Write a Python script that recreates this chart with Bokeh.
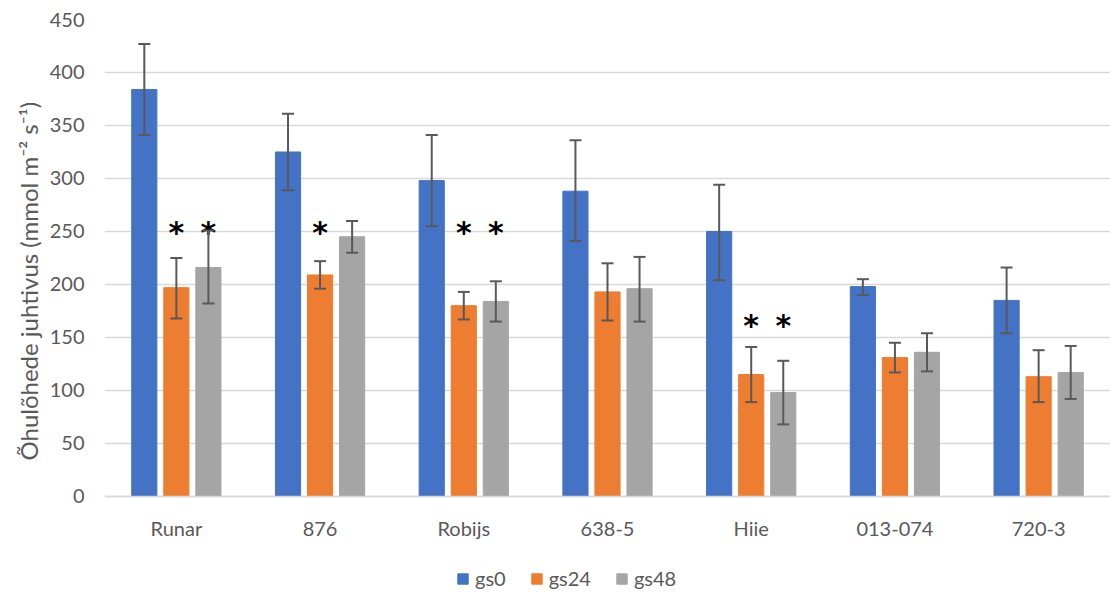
from bokeh.plotting import figure
from bokeh.models import ColumnDataSource, Whisker, TeeHead, Legend, LegendItem, FixedTicker, Title
from bokeh.transform import dodge
from bokeh.core.properties import value
from bokeh.embed import file_html
from bokeh.resources import INLINE

categories = ["Runar", "876", "Robijs", "638-5", "Hiie", "013-074", "720-3"]
series = ["gs0", "gs24", "gs48"]

gs0 = [384, 325, 298, 288, 250, 198, 185]
gs0_lo = [341, 289, 255, 241, 204, 190, 154]
gs0_hi = [427, 361, 341, 336, 294, 205, 216]

gs24 = [197, 209, 180, 193, 115, 131, 113]
gs24_lo = [168, 196, 167, 166, 89, 117, 89]
gs24_hi = [225, 222, 193, 220, 141, 145, 138]

gs48 = [216, 245, 184, 196, 98, 136, 117]
gs48_lo = [182, 230, 165, 165, 68, 118, 92]
gs48_hi = [251, 260, 203, 226, 128, 154, 142]

# significance markers (height in data units, None = no marker)
star24 = [252, 252, 252, None, 164, None, None]
star48 = [252, None, 252, None, 164, None, None]

y_ticks = list(range(0, 451, 50))
y_title = "Õhulõhede juhtivus (mmol m⁻² s⁻¹)"

colors = ["#4472C4", "#ED7D31", "#A5A5A5"]
text_color = "#595959"
grid_color = "#D9D9D9"
FONT = "Lato"

# frame extends below zero so the legend can sit inside it; x axis drawn at y = 0
p = figure(x_range=categories, y_range=(-92.5, 450), width=1110, height=594,
           output_backend="svg", toolbar_location=None,
           min_border_left=104, min_border_right=0, min_border_top=19, min_border_bottom=0)

offsets = [-0.223, 0.0, 0.223]
bar_w = 0.175
vals = [gs0, gs24, gs48]
los = [gs0_lo, gs24_lo, gs48_lo]
his = [gs0_hi, gs24_hi, gs48_hi]

renderers = []
for name, v, lo, hi, off, c in zip(series, vals, los, his, offsets, colors):
    src = ColumnDataSource(dict(cat=categories, val=v, lo=lo, hi=hi))
    r = p.vbar(x=dodge("cat", off, range=p.x_range), top="val", bottom=0, width=bar_w, source=src,
               fill_color=c, line_color=c, line_width=1)
    renderers.append(r)
    w = Whisker(base=dodge("cat", off, range=p.x_range), upper="hi", lower="lo", source=src,
                level="annotation", line_color="#595959", line_width=2,
                upper_head=TeeHead(size=12, line_color="#595959", line_width=2),
                lower_head=TeeHead(size=12, line_color="#595959", line_width=2))
    p.add_layout(w)

for stars, off in [(star24, 0.0), (star48, 0.223)]:
    cats = [c for c, s in zip(categories, stars) if s is not None]
    ys = [s for s in stars if s is not None]
    ssrc = ColumnDataSource(dict(cat=cats, y=ys, t=["*"] * len(cats)))
    p.text(x=dodge("cat", off, range=p.x_range), y="y", text="t", source=ssrc,
           text_font=value("DejaVu Sans"), text_font_style="bold", text_font_size="30px",
           text_align="center", text_baseline="middle", text_color="black", y_offset=3)

p.yaxis.ticker = FixedTicker(ticks=y_ticks)
p.yaxis.axis_line_color = None
p.yaxis.major_tick_line_color = None
p.yaxis.minor_tick_line_color = None
p.yaxis.major_tick_out = 0
p.yaxis.major_label_text_font = FONT
p.yaxis.major_label_text_font_size = "20px"
p.yaxis.major_label_text_color = text_color
p.yaxis.major_label_standoff = 20

title = Title(text=y_title, align="left", offset=134, text_font=FONT, text_font_style="normal",
              text_font_size="24px", text_color=text_color, standoff=8)
p.add_layout(title, "left")

p.xaxis.fixed_location = 0
p.xaxis.axis_line_color = grid_color
p.xaxis.axis_line_width = 1.5
p.xaxis.major_tick_line_color = None
p.xaxis.minor_tick_line_color = None
p.xaxis.major_tick_out = 0
p.xaxis.major_label_text_font = FONT
p.xaxis.major_label_text_font_size = "20px"
p.xaxis.major_label_text_color = text_color
p.xaxis.major_label_standoff = 20

legend = Legend(items=[LegendItem(label=s, renderers=[r]) for s, r in zip(series, renderers)],
                orientation="horizontal", location=(352, 4),
                label_text_font=FONT, label_text_font_size="20px", label_text_color=text_color,
                glyph_width=13, glyph_height=13, spacing=24, label_standoff=6,
                background_fill_alpha=0, border_line_alpha=0, padding=0, margin=0)
p.add_layout(legend)

p.xgrid.grid_line_color = None
p.ygrid.grid_line_color = grid_color
p.ygrid.grid_line_width = 1.5
p.outline_line_color = None
p.x_range.range_padding = 0

open("out.html", "w").write(file_html(p, INLINE))
